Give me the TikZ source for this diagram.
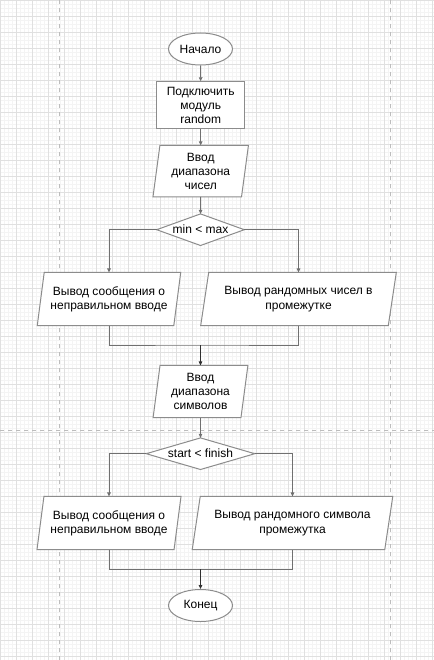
\documentclass[tikz,border=0pt]{standalone}
\usepackage{fontspec}
\setmainfont{Liberation Sans}
\usetikzlibrary{arrows.meta,backgrounds,shapes.geometric}
\definecolor{gridminor}{HTML}{F4F4F4}
\definecolor{gridmajor}{HTML}{E0E0E0}
\definecolor{pagebrk}{HTML}{BDBDBD}
\definecolor{shapeline}{HTML}{8C8C8C}
\definecolor{conn}{HTML}{707070}
\definecolor{connd}{HTML}{303030}
\newcommand\paradraw[2]{\draw[shp] ([xshift=#2]#1.north west) -- ([xshift=#2]#1.north east) -- ([xshift=-#2]#1.south east) -- ([xshift=-#2]#1.south west) -- cycle;}
\newcommand\diadraw[1]{\draw[shp] (#1.north) -- (#1.east) -- (#1.south) -- (#1.west) -- cycle;}
\begin{document}
\begin{tikzpicture}[x=0.75pt,y=-0.75pt,
  every node/.style={font=\fontsize{9}{10.7}\selectfont, text=black, inner sep=0pt, align=center},
  shp/.style={draw=shapeline, line width=0.75pt, fill=white},
  ellbox/.style={shape=ellipse, draw=shapeline, line width=0.75pt, fill=white, minimum width=48pt, minimum height=24pt},
  rectbox/.style={shape=rectangle, draw=shapeline, line width=0.75pt, fill=white},
  holder/.style={shape=rectangle},
  ln/.style={draw=conn, line width=0.75pt},
  arr/.style={draw=conn, line width=0.75pt, -{Triangle[length=3pt,width=2.6pt]}},
  arrd/.style={draw=connd, line width=0.75pt, -{Triangle[length=3pt,width=2.6pt]}}
]
\useasboundingbox (0,0) rectangle (434,660);
\begin{scope}[on background layer]
  \clip (0,0) rectangle (434,660);
  \fill[white] (0,0) rectangle (434,660);
  \foreach \i in {0,4,...,432} \draw[gridminor,line width=0.75pt] (\i+0.5,0) -- (\i+0.5,660);
  \foreach \i in {0,4,...,660} \draw[gridminor,line width=0.75pt] (0,\i+0.5) -- (434,\i+0.5);
  \foreach \i in {0,16,...,432} \draw[gridmajor,line width=0.75pt] (\i+0.5,0) -- (\i+0.5,660);
  \foreach \i in {0,16,...,656} \draw[gridmajor,line width=0.75pt] (0,\i+0.5) -- (434,\i+0.5);
  \draw[pagebrk,line width=0.75pt,dash pattern=on 3pt off 3pt] (59.5,0) -- (59.5,660);
  \draw[pagebrk,line width=0.75pt,dash pattern=on 3pt off 3pt] (390.5,0) -- (390.5,660);
  \draw[pagebrk,line width=0.75pt,dash pattern=on 3pt off 3pt] (0,430.5) -- (434,430.5);
\end{scope}

\node[ellbox] (start) at (200.5,49) {Начало};
\node[rectbox, minimum width=66pt, minimum height=35.3pt] (mod) at (200.7,105.3) {Подключить\\модуль\\random};
\node[holder, minimum width=66pt, minimum height=38.2pt] (in1) at (200.7,171.2) {Ввод\\диапазона\\чисел};
\node[holder, minimum width=65.3pt, minimum height=23.3pt] (d1) at (200.5,229.7) {min < max};
\node[holder, minimum width=102pt, minimum height=39.4pt] (L1) at (109,299) {Вывод сообщения о\\неправильном вводе};
\node[holder, minimum width=140.3pt, minimum height=39.4pt] (R1) at (298.5,299) {Вывод рандомных чисел в\\промежутке};
\node[holder, minimum width=65.5pt, minimum height=38.7pt] (in2) at (200.5,391.5) {Ввод\\диапазона\\символов};
\node[holder, minimum width=81pt, minimum height=23.3pt] (d2) at (200.5,453.7) {start < finish};
\node[holder, minimum width=102.4pt, minimum height=39.4pt] (L2) at (109,523) {Вывод сообщения о\\неправильном вводе};
\node[holder, minimum width=144pt, minimum height=39.4pt] (R2) at (292.5,523) {Вывод рандомного символа\\промежутка};
\node[ellbox] (end) at (200.5,605.5) {Конец};

\begin{scope}[on background layer]
  \paradraw{in1}{2.6pt}
  \diadraw{d1}
  \paradraw{L1}{2.6pt}
  \paradraw{R1}{3pt}
  \paradraw{in2}{2.6pt}
  \diadraw{d2}
  \paradraw{L2}{2.6pt}
  \paradraw{R2}{3pt}
\end{scope}

\coordinate (m1) at (200.5,345);
\coordinate (m2) at (200.5,569.3);

\draw[arr] (start.south) -- (mod.north);
\draw[arr] (mod.south) -- (in1.north);
\draw[arr] (in1.south) -- (d1.north);
\draw[arr] (d1.west) -| (L1.north);
\draw[arr] (d1.east) -| (R1.north);
\draw[ln] (L1.south) |- (m1) -| (R1.south);
\draw[arrd] (m1) -- (in2.north);
\draw[arr] (in2.south) -- (d2.north);
\draw[arr] (d2.west) -| (L2.north);
\draw[arr] (d2.east) -| (R2.north);
\draw[ln] (L2.south) |- (m2) -| (R2.south);
\draw[arrd] (m2) -- (end.north);
\end{tikzpicture}
\end{document}
